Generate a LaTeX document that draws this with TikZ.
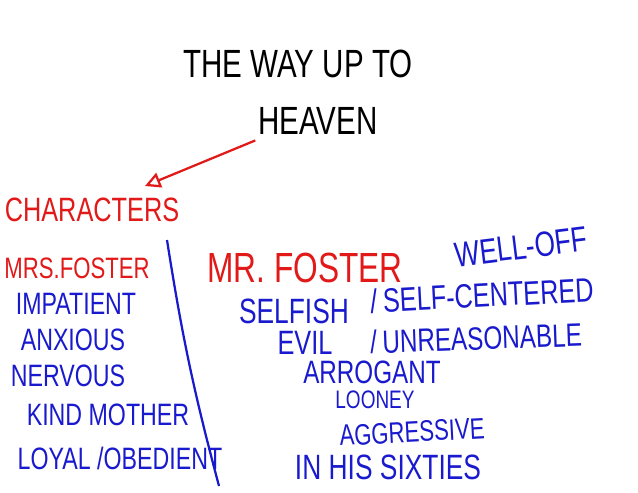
\documentclass[tikz,border=0pt]{standalone}
\usepackage{fontspec}
\setmainfont{Liberation Sans}[FakeStretch=0.75]
\usetikzlibrary{arrows.meta,positioning}

\definecolor{penred}{RGB}{225,25,25}
\definecolor{penblue}{RGB}{25,25,205}

\begin{document}
\begin{tikzpicture}[
  x=0.025cm, y=-0.025cm,
  % ---- Node styles ----
  title/.style={text=black, font=\fontsize{28}{30}\selectfont, inner sep=0pt},
  heading/.style={text=penred, font=\fontsize{22}{24}\selectfont, inner sep=0pt},
  trait/.style={text=penblue, font=\fontsize{22}{24}\selectfont, inner sep=0pt},
  bigtrait/.style={trait, font=\fontsize{25}{27}\selectfont},
  smalltrait/.style={trait, font=\fontsize{19}{21}\selectfont},
  % ---- Lines ----
  redline/.style={draw=penred, line width=1.6pt, -{Triangle[open, length=11pt, width=11pt]}},
  blueline/.style={draw=penblue, line width=1.6pt}
]
\useasboundingbox (0,0) rectangle (638,493);

% ===== Title =====
\node[title] (title1) at (298,64)  {THE WAY UP TO};
\node[title] (title2) at (318,121) {HEAVEN};

% ===== Left column =====
\node[heading, font=\fontsize{24}{26}\selectfont] (chars) at (92,210) {CHARACTERS};
\node[heading, font=\fontsize{21}{23}\selectfont] (mrs) at (77,268) {MRS.FOSTER};
\node[trait] (impatient) at (76,304)  {IMPATIENT};
\node[trait] (anxious)   at (73,340)  {ANXIOUS};
\node[trait] (nervous)   at (68,376)  {NERVOUS};
\node[trait] (kind)      at (108,415) {KIND MOTHER};
\node[trait] (loyal)     at (120,458) {LOYAL /OBEDIENT};

% ===== Right column =====
\node[heading, font=\fontsize{30}{32}\selectfont] (mr) at (305,268) {MR. FOSTER};
\node[bigtrait, rotate=7] (welloff) at (521,247) {WELL-OFF};
\node[bigtrait] (selfish) at (294,311) {SELFISH};
\node[bigtrait, font=\fontsize{24}{26}\selectfont, rotate=3, anchor=west] (centered) at (370,301) {/\,SELF-CENTERED};
\node[bigtrait, font=\fontsize{24}{26}\selectfont] (evil) at (305,343) {EVIL};
\node[trait, font=\fontsize{23}{25}\selectfont, rotate=2, anchor=west] (unreas) at (370,342) {/\,UNREASONABLE};
\node[trait, font=\fontsize{23}{25}\selectfont] (arrogant) at (372,372) {ARROGANT};
\node[smalltrait, font=\fontsize{18}{20}\selectfont] (looney) at (375,400) {LOONEY};
\node[smalltrait, font=\fontsize{21}{23}\selectfont, rotate=3] (aggressive) at (412,432) {AGGRESSIVE};
\node[bigtrait] (sixties) at (388,467) {IN HIS SIXTIES};

% ===== Connections =====
\coordinate (arrowtip) at (145,186);
\draw[redline] ([xshift=-2pt,yshift=-4pt]title2.south west) -- (arrowtip);

% divider between the two characters
\coordinate (divtop) at (167,240);
\coordinate (divbot) at (219,486);
\draw[blueline] (divtop) to[bend right=3] (divbot);

\end{tikzpicture}
\end{document}
